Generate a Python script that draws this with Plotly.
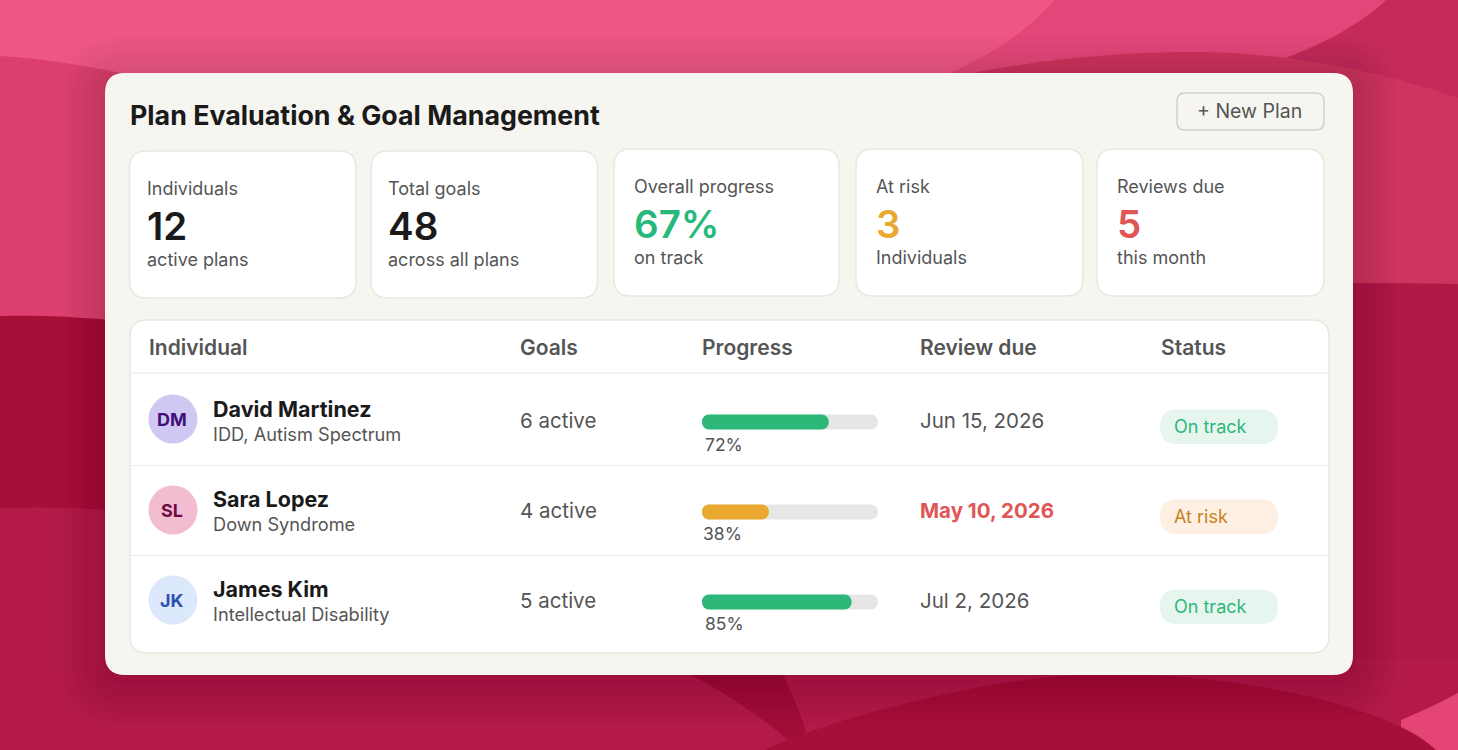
import plotly.graph_objects as go

W, H = 1458, 750
FONT = "Inter"
INK, GREY = "#1A1A1A", "#555555"
GREEN, AMBER, RED = "#2DB87A", "#E8A92E", "#E05656"

TITLE = "Plan Evaluation & Goal Management"
BUTTON = "+ New Plan"

stat_labels = ["Individuals", "Total goals", "Overall progress", "At risk", "Reviews due"]
stat_values = ["12", "48", "67%", "3", "5"]
stat_subs = ["active plans", "across all plans", "on track", "Individuals", "this month"]
stat_colors = [INK, INK, "#27B87C", AMBER, RED]
stat_boxes = [(129.5, 151, 356, 298), (371, 151, 597.5, 298), (614, 149, 839, 296),
              (856, 149, 1083, 296), (1097, 149, 1324, 296)]
stat_text_x = [147, 387.5, 634, 875.5, 1117]

columns = ["Individual", "Goals", "Progress", "Review due", "Status"]
column_x = [149, 520, 702, 920, 1161]

names = ["David Martinez", "Sara Lopez", "James Kim"]
details = ["IDD, Autism Spectrum", "Down Syndrome", "Intellectual Disability"]
initials = ["DM", "SL", "JK"]
avatar_fill = ["#CFC8F3", "#F2BDD1", "#DCE8FB"]
avatar_ink = ["#3F0F7A", "#6D0B45", "#2F52AF"]
goals = ["6 active", "4 active", "5 active"]
progress = [72, 38, 85]
progress_colors = [GREEN, AMBER, GREEN]
track = [100, 100, 100]
progress_x = [704.5, 702.5, 704.5]
due = ["Jun 15, 2026", "May 10, 2026", "Jul 2, 2026"]
status = ["On track", "At risk", "On track"]
status_fill = ["#E6F6EE", "#FDF0E2", "#E6F6EE"]
status_ink = [GREEN, "#C77F20", GREEN]
row_y = [421, 511, 601]


def rrect(x0, y0, x1, y1, r):
    return (f"M{x0+r},{y0} L{x1-r},{y0} Q{x1},{y0} {x1},{y0+r} L{x1},{y1-r} Q{x1},{y1} {x1-r},{y1} "
            f"L{x0+r},{y1} Q{x0},{y1} {x0},{y1-r} L{x0},{y0+r} Q{x0},{y0} {x0+r},{y0} Z")


shapes = []


def path(d, fill, line=None, lw=0):
    shapes.append(dict(type="path", path=d, xref="x", yref="y", layer="below", fillcolor=fill,
                       line=dict(color=line or "rgba(0,0,0,0)", width=lw)))


def text(x, y, s, size, color, bold=False, anchor="left", weight=None):
    dx = -2 if anchor == "left" else -1
    return dict(x=x + dx, y=y - 0.5, xref="x", yref="y", text=s, showarrow=False, xanchor=anchor, yanchor="middle",
                font=dict(family=FONT, size=size, color=color, weight=weight or (700 if bold else 400)))


# background waves
path("M0,0 H1458 V750 H0 Z", "#EE5785")
path("M1054,0 C1030,30 990,55 950,73 L950,300 L1458,300 L1458,0 Z", "#E4467A")
path("M1386,0 C1360,25 1320,45 1288,57 L1288,200 L1458,200 L1458,0 Z", "#C42A5A")
path("M900,90 C1000,62 1110,52 1190,52 C1300,52 1390,75 1458,98 L1458,300 L900,300 Z", "#CE3460")
path("M0,56 C40,58 80,65 121,73 L121,400 L0,400 Z", "#DC3F6F")
path("M1340,283 C1380,283 1420,283 1458,284 L1458,750 L1340,750 Z", "#B01845")
path("M0,316 C30,315 70,316 110,320 L110,600 L0,600 Z", "#A60F38")
path("M0,508 C30,507 70,507 110,510 L110,660 L1458,660 L1458,750 L0,750 Z", "#B31A47")
path("M682,670 L781,670 C795,700 803,720 807,735 L790,742 C760,715 720,690 682,670 Z", "#A00E38")
path("M1401,720 C1420,712 1440,703 1458,693 L1458,750 L1401,750 Z", "#E54575")
path("M765,750 C790,735 960,677 1100,674 C1230,672 1390,705 1436,750 Z", "#A60F38")

# soft card shadow
for grow in range(3, 48, 5):
    path(rrect(105 - grow, 73 - grow + 6, 1353 + grow, 675 + grow + 6, 20 + grow), "rgba(30,10,30,0.012)")

# card, button, tiles, table
path(rrect(105, 73, 1353, 675, 20), "#F6F5F0")
path(rrect(1177, 93, 1324, 130, 8), "#F6F5F0", "#D2D0CA", 1.5)
for b in stat_boxes:
    path(rrect(*b, 17), "#FFFFFF", "#E9E7E0", 1.5)
path(rrect(130, 320, 1329, 653, 17), "#FFFFFF", "#E9E7E0", 1.5)
path("M131,373 H1328", "rgba(0,0,0,0)", "#F4F3EF", 2)
path("M131,465.5 H1328", "rgba(0,0,0,0)", "#EEEDE9", 1)
path("M131,555.5 H1328", "rgba(0,0,0,0)", "#EEEDE9", 1)

ann = [text(130, 115.5, TITLE, 26.8, INK, True), text(1197, 111.5, BUTTON, 19.5, GREY)]

for (x0, y0, x1, y1), tx, lab, val, sub, col in zip(stat_boxes, stat_text_x, stat_labels, stat_values, stat_subs, stat_colors):
    ann += [text(tx, y0 + 38, lab, 18, GREY), text(tx, y0 + 75, val, 38.5, col, weight=600),
            text(tx, y0 + 109, sub, 18, GREY)]

for cx, c in zip(column_x, columns):
    ann.append(text(cx, 347.5, c, 21, GREY, weight=600))

for i, ry in enumerate(row_y):
    cy = ry - 2 + (1 if i else 0)
    shapes.append(dict(type="circle", xref="x", yref="y", layer="below", x0=148.5, x1=197.5, y0=cy - 24.5,
                       y1=cy + 24.5, fillcolor=avatar_fill[i], line=dict(width=0)))
    ann += [text(173, cy + 1, initials[i], 18, avatar_ink[i], True, "center"),
            text(213, ry - 12, names[i], 21.5, INK, True),
            text(213, ry + 13, details[i], 18.2, GREY),
            text(520, ry, goals[i], 20.5, GREY),
            text(progress_x[i], ry + 24 - (1 if i else 0), f"{progress[i]}%", 17.5, GREY),
            text(920, ry, due[i], 20.5, RED if status[i] == "At risk" else GREY, status[i] == "At risk"),
            text(1174, ry + 6, status[i], 18, status_ink[i])]
    path(rrect(1160, ry - 11.5, 1278, ry + 23, 17), status_fill[i])

fig = go.Figure()
# invisible pixel canvas carrying the shapes and text
fig.add_trace(go.Scatter(x=[0, W], y=[0, H], mode="markers", marker=dict(opacity=0), hoverinfo="skip",
                         showlegend=False, xaxis="x", yaxis="y"))
# an explicit base makes Plotly round both ends of each bar
fig.add_trace(go.Bar(y=names, x=track, base=[0] * len(names), orientation="h", width=15 / 90,
                     marker=dict(color="#E6E6E6", cornerradius=7.5, line=dict(width=0)), hoverinfo="skip",
                     showlegend=False, xaxis="x2", yaxis="y2"))
fig.add_trace(go.Bar(y=names, x=progress, base=[0] * len(names), orientation="h", width=15 / 90,
                     marker=dict(color=progress_colors, cornerradius=7.5, line=dict(width=0)),
                     showlegend=False, xaxis="x2", yaxis="y3"))

hidden = dict(visible=False, showgrid=False, zeroline=False, fixedrange=True)
ycat = dict(type="category", categoryorder="array", categoryarray=names, autorange="reversed",
            domain=[1 - 647 / H, 1 - 377 / H], anchor="x2", **hidden)
fig.update_layout(
    width=W, height=H, margin=dict(l=0, r=0, t=0, b=0, pad=0), paper_bgcolor="#EE5785", plot_bgcolor="rgba(0,0,0,0)",
    barmode="overlay", showlegend=False, shapes=shapes, annotations=ann,
    xaxis=dict(range=[0, W], domain=[0, 1], **hidden),
    yaxis=dict(range=[H, 0], domain=[0, 1], **hidden),
    xaxis2=dict(range=[0, 100], domain=[702 / W, 878 / W], anchor="y2", **hidden),
    yaxis2=ycat,
    yaxis3=dict(ycat, overlaying="y2"),
)
fig.write_html("out.html", config=dict(displayModeBar=False),
               post_script="document.body.style.margin='0';document.body.style.overflow='hidden';")
